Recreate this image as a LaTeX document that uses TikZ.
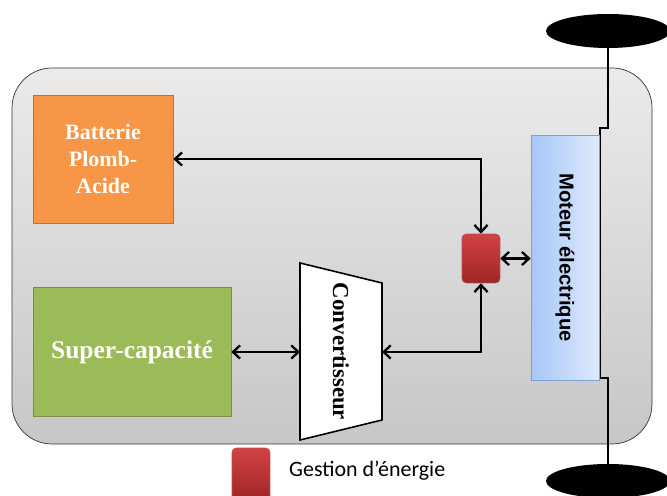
\documentclass[tikz,border=0pt]{standalone}
\usepackage{fontspec}
\setmainfont{Liberation Serif}
\newfontfamily\arialfont{Liberation Sans}
\newfontfamily\calibrifont{Carlito}
\usetikzlibrary{arrows.meta,shapes.geometric}

\definecolor{battorange}{RGB}{247,150,70}
\definecolor{battborder}{RGB}{190,112,50}
\definecolor{scgreen}{RGB}{155,187,89}
\definecolor{scborder}{RGB}{118,146,62}
\definecolor{motleft}{RGB}{166,199,247}
\definecolor{motright}{RGB}{222,233,252}
\definecolor{motborder}{RGB}{120,162,222}
\definecolor{redtop}{RGB}{210,66,66}
\definecolor{redbottom}{RGB}{158,38,38}

\tikzset{
    conn/.style={line width=1.3pt, {Straight Barb[length=4pt,width=7.5pt]}-{Straight Barb[length=4pt,width=7.5pt]}},
    whitetext/.style={text=white, font=\bfseries, align=center},
    ctrlbox/.style={draw=redbottom!80, top color=redtop, bottom color=redbottom, rounded corners=2.5pt, minimum width=0.76cm, minimum height=0.98cm}
}

\begin{document}
\begin{tikzpicture}[x=0.02cm, y=-0.02cm]
        \useasboundingbox (0,0) rectangle (667,496);
        \clip (0,0) rectangle (667,496);

        \shade[draw=black!80, top color=black!8, bottom color=black!22, rounded corners=0.8cm] (12,68) rectangle (652,444);

        \node[ellipse, fill=black, minimum width=2.48cm, minimum height=0.68cm] (wheeltop) at (608,31) {};
        \node[ellipse, fill=black, minimum width=2.48cm, minimum height=0.68cm] (wheelbot) at (608,481) {};
        \coordinate (axA) at (608,128);
        \coordinate (axB) at (600,128);
        \coordinate (axC) at (600,378);
        \coordinate (axD) at (608,378);
        \draw[line width=1.1pt] (wheeltop.center) -- (axA) -- (axB) -- (axC) -- (axD) -- (wheelbot.center);

        \node[draw=battborder, fill=battorange, minimum width=2.8cm, minimum height=2.56cm,
              whitetext, font=\fontsize{12.5}{15.4}\selectfont\bfseries] (batt) at (103,159) {Batterie\\Plomb-\\Acide};
        \node[draw=scborder, fill=scgreen, minimum width=3.96cm, minimum height=2.58cm,
              whitetext, font=\fontsize{14.5}{17}\selectfont\bfseries] (sc) at (132,352) {Super-capacité};

        \node[draw=motborder, left color=motleft, right color=motright, minimum width=1.36cm, minimum height=4.9cm] (motor) at (565,257.5) {};
        \node[rotate=-90, font=\arialfont\fontsize{11.5}{13}\selectfont\bfseries] (motorlabel) at (motor.center) {Moteur électrique};

        \filldraw[color=black, fill=white, line width=0.9pt] (300,263) -- (382,283) -- (382,420) -- (300,440) -- cycle;
        \node[rotate=-90, font=\fontsize{13}{15}\selectfont\bfseries] (conv) at (341,351.5) {Convertisseur};
        \coordinate (convL) at (300,352);
        \coordinate (convR) at (382,352);

        \node[ctrlbox] (ctrl) at (481,258.5) {};

        \draw[conn] (ctrl.north) |- (batt.east);
        \draw[conn] (ctrl.east) -- (ctrl.east -| motor.west);
        \draw[conn] (ctrl.south) |- (convR);
        \draw[conn] (sc.east) -- (convL);

        \node[ctrlbox, minimum height=1.04cm] (legendbox) at (251,474) {};
        \node[anchor=west, font=\calibrifont\fontsize{12.5}{15}\selectfont] (legendtext) at (283,471) {Gestion d’énergie};
    \end{tikzpicture}
\end{document}
